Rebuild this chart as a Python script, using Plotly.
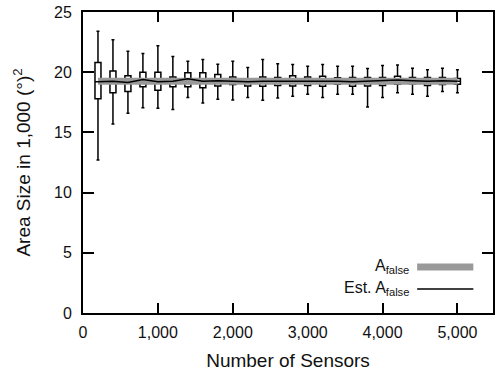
import plotly.graph_objects as go

# ---- data ----
sensors = [200, 400, 600, 800, 1000, 1200, 1400, 1600, 1800, 2000, 2200, 2400, 2600,
           2800, 3000, 3200, 3400, 3600, 3800, 4000, 4200, 4400, 4600, 4800, 5000]
whisker_high = [23.4, 22.7, 21.75, 21.55, 22.2, 21.3, 20.9, 21.05, 20.67, 20.9, 20.4, 21.05, 20.7,
                20.64, 20.5, 20.64, 20.5, 20.5, 20.3, 20.55, 20.6, 20.33, 20.2, 20.33, 20.2]
box_high = [20.8, 20.1, 19.7, 20.0, 20.0, 19.6, 19.95, 19.95, 19.8, 19.6, 19.4, 19.6, 19.55,
            19.7, 19.6, 19.67, 19.53, 19.55, 19.55, 19.55, 19.67, 19.55, 19.55, 19.55, 19.47]
box_low = [17.8, 18.3, 18.4, 18.8, 18.5, 18.8, 18.8, 18.7, 18.86, 18.97, 18.86, 18.83, 18.9,
           18.86, 18.9, 18.83, 19.0, 18.83, 18.86, 18.9, 19.0, 19.05, 18.9, 18.97, 19.0]
whisker_low = [12.7, 15.7, 16.6, 17.05, 17.0, 16.9, 17.9, 17.45, 17.75, 17.7, 17.9, 17.67, 17.86,
               18.0, 18.17, 17.9, 18.17, 18.17, 17.1, 17.9, 18.3, 18.17, 18.0, 18.4, 18.3]
est_a_false = [19.2, 19.25, 19.15, 19.4, 19.2, 19.25, 19.45, 19.25, 19.3, 19.25, 19.2, 19.25, 19.25,
               19.3, 19.25, 19.25, 19.25, 19.2, 19.25, 19.25, 19.35, 19.3, 19.25, 19.3, 19.25]
a_false = [19.25] * len(sensors)

x_ticks = [0, 1000, 2000, 3000, 4000, 5000]
y_ticks = [0, 5, 10, 15, 20, 25]

FONT = "Liberation Sans, Arial, sans-serif"
GRAY = "#999999"
TEXT = "#111111"

fig = go.Figure()

fig.add_trace(go.Scatter(x=sensors, y=a_false, mode="lines",
                         line=dict(color=GRAY, width=7), showlegend=False, hoverinfo="skip"))

fig.add_trace(go.Box(x=sensors, q1=box_low, median=est_a_false, q3=box_high,
                     lowerfence=whisker_low, upperfence=whisker_high,
                     width=80, whiskerwidth=0.5, boxpoints=False,
                     line=dict(color="black", width=1.5),
                     fillcolor="rgba(0,0,0,0)", showlegend=False))

fig.add_trace(go.Scatter(x=sensors, y=est_a_false, mode="lines",
                         line=dict(color="black", width=1.5), showlegend=False))

# manual legend (text on the left, sample on the right)
legend_rows = [("A<sub>false</sub>", GRAY, 7, 0.153), ("Est. A<sub>false</sub>", "black", 1.5, 0.080)]
for label, col, w, yy in legend_rows:
    fig.add_annotation(x=0.80, y=yy, xref="paper", yref="paper", text=label, showarrow=False,
                       xanchor="right", yanchor="middle", font=dict(family=FONT, size=16, color=TEXT))
    fig.add_shape(type="line", xref="paper", yref="paper", x0=0.815, x1=0.952, y0=yy, y1=yy,
                  line=dict(color=col, width=w))

fig.update_layout(
    width=495, height=381,
    margin=dict(l=83, r=0, t=12, b=68),
    paper_bgcolor="white", plot_bgcolor="white",
    font=dict(family=FONT, size=16, color=TEXT),
    showlegend=False,
)
fig.update_xaxes(range=[0, 5475], tickvals=x_ticks, tickformat=",d",
                 ticks="inside", ticklen=10, tickwidth=1.5, tickcolor="black",
                 showline=True, linecolor="black", linewidth=2, mirror="ticks",
                 showgrid=False, zeroline=False, ticklabelstandoff=4,
                 title=dict(text="Number of Sensors", standoff=13))
fig.update_yaxes(range=[0, 25], tickvals=y_ticks,
                 ticks="inside", ticklen=11, tickwidth=1.5, tickcolor="black",
                 showline=True, linecolor="black", linewidth=2, mirror="ticks",
                 showgrid=False, zeroline=False, ticklabelstandoff=6,
                 title=dict(text="Area Size in 1,000 (°)<sup>2</sup>", standoff=18))

fig.write_html("out.html")
